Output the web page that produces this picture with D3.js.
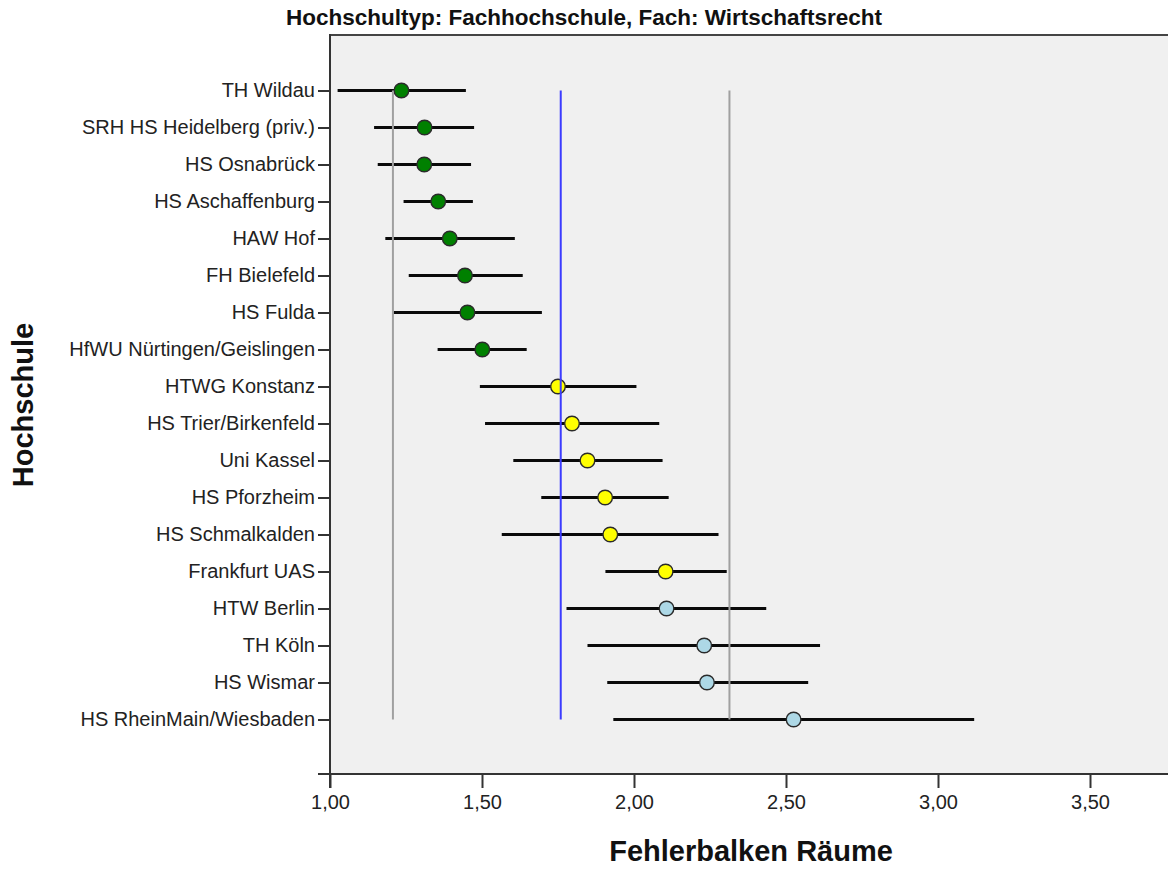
<!DOCTYPE html>
<html>
<head>
<meta charset="utf-8">
<script src="https://cdn.jsdelivr.net/npm/d3@7"></script>
<style>
  html, body { margin: 0; padding: 0; background: #ffffff; }
  svg { display: block; }
  text { font-family: "Liberation Sans", Arial, sans-serif; }
</style>
</head>
<body>
<svg id="chart" width="1168" height="869"></svg>
<script>
// ---- data ----
const categories = [
  "TH Wildau", "SRH HS Heidelberg (priv.)", "HS Osnabrück", "HS Aschaffenburg",
  "HAW Hof", "FH Bielefeld", "HS Fulda", "HfWU Nürtingen/Geislingen",
  "HTWG Konstanz", "HS Trier/Birkenfeld", "Uni Kassel", "HS Pforzheim",
  "HS Schmalkalden", "Frankfurt UAS", "HTW Berlin", "TH Köln", "HS Wismar",
  "HS RheinMain/Wiesbaden"
];
const means = [1.235, 1.311, 1.310, 1.356, 1.394, 1.444, 1.452, 1.501,
               1.750, 1.796, 1.847, 1.905, 1.922, 2.104, 2.107, 2.231, 2.240, 2.525];
const lower = [1.025, 1.145, 1.157, 1.242, 1.182, 1.259, 1.209, 1.354,
               1.493, 1.510, 1.603, 1.695, 1.565, 1.906, 1.778, 1.847, 1.912, 1.932];
const upper = [1.447, 1.474, 1.464, 1.470, 1.608, 1.634, 1.697, 1.647,
               2.008, 2.083, 2.094, 2.114, 2.278, 2.305, 2.435, 2.612, 2.573, 3.119];
const groupIndex = [0, 0, 0, 0, 0, 0, 0, 0, 1, 1, 1, 1, 1, 1, 2, 2, 2, 2];
const groupColors = ["#008000", "#ffff00", "#add8e6"];
const refValues = [1.207, 1.759, 2.314];
const refColors = ["#a0a0a0", "#3c3cff", "#a0a0a0"];
const tickValues = [1.0, 1.5, 2.0, 2.5, 3.0, 3.5];
const tickLabels = ["1,00", "1,50", "2,00", "2,50", "3,00", "3,50"];
const title = "Hochschultyp: Fachhochschule, Fach: Wirtschaftsrecht";
const xTitle = "Fehlerbalken Räume";
const yTitle = "Hochschule";

const rows = categories.map((c, i) => ({
  name: c, mean: means[i], lo: lower[i], hi: upper[i], g: groupIndex[i]
}));

// ---- layout ----
const svg = d3.select("#chart");
const plotLeft = 330, plotTop = 35, plotBottom = 774, plotRight = 1200;

const x = d3.scaleLinear().domain([1.0, 3.5]).range([plotLeft, 1090]);
const y = d3.scalePoint().domain(categories).range([plotTop, plotBottom + 1]).padding(1.5);

// background
svg.append("rect")
  .attr("x", plotLeft).attr("y", plotTop)
  .attr("width", plotRight - plotLeft).attr("height", plotBottom - plotTop)
  .attr("fill", "#f0f0f0");

// top frame line
svg.append("line")
  .attr("x1", plotLeft).attr("x2", plotRight)
  .attr("y1", plotTop).attr("y2", plotTop)
  .attr("stroke", "#444").attr("stroke-width", 2);

// error bars
const g = svg.append("g");
g.selectAll("line.err").data(rows).enter().append("line")
  .attr("class", "err")
  .attr("x1", d => x(d.lo)).attr("x2", d => x(d.hi))
  .attr("y1", d => y(d.name)).attr("y2", d => y(d.name))
  .attr("stroke", "#0a0a0a").attr("stroke-width", 3);

// points
g.selectAll("circle").data(rows).enter().append("circle")
  .attr("cx", d => x(d.mean)).attr("cy", d => y(d.name))
  .attr("r", 7.3)
  .attr("fill", d => groupColors[d.g])
  .attr("stroke", "#2a2a2a").attr("stroke-width", 1.4);

// reference lines
const yFirst = y(categories[0]), yLast = y(categories[categories.length - 1]);
svg.append("g").selectAll("line").data(refValues).enter().append("line")
  .attr("x1", d => x(d)).attr("x2", d => x(d))
  .attr("y1", yFirst).attr("y2", yLast)
  .attr("stroke", (d, i) => refColors[i]).attr("stroke-width", 2);

// x axis
const xAxis = d3.axisBottom(x)
  .tickValues(tickValues)
  .tickFormat((d, i) => tickLabels[i])
  .tickSize(14).tickPadding(7).tickSizeOuter(0);
const xg = svg.append("g").attr("transform", `translate(0,${plotBottom})`).call(xAxis);
xg.select(".domain").remove();
xg.selectAll(".tick line").attr("stroke", "#333").attr("stroke-width", 2);
xg.selectAll(".tick text").attr("font-size", 20).attr("fill", "#222")
  .style("font-family", '"Liberation Sans", Arial, sans-serif');
svg.append("line")
  .attr("x1", plotLeft - 1).attr("x2", plotRight)
  .attr("y1", plotBottom).attr("y2", plotBottom)
  .attr("stroke", "#333").attr("stroke-width", 2);

// y axis
const yAxis = d3.axisLeft(y).tickSize(12).tickPadding(3).tickSizeOuter(0);
const yg = svg.append("g").attr("transform", `translate(${plotLeft},0)`).call(yAxis);
yg.select(".domain").remove();
yg.selectAll(".tick line").attr("stroke", "#333").attr("stroke-width", 2);
yg.selectAll(".tick text").attr("font-size", 20).attr("fill", "#222")
  .style("font-family", '"Liberation Sans", Arial, sans-serif');
// bottom end tick of y axis
svg.append("line")
  .attr("x1", plotLeft - 12).attr("x2", plotLeft)
  .attr("y1", plotBottom).attr("y2", plotBottom)
  .attr("stroke", "#333").attr("stroke-width", 2);
svg.append("line")
  .attr("x1", plotLeft).attr("x2", plotLeft)
  .attr("y1", plotTop - 1).attr("y2", plotBottom + 14)
  .attr("stroke", "#333").attr("stroke-width", 2);

// titles
svg.append("text")
  .attr("x", 584).attr("y", 25)
  .attr("text-anchor", "middle")
  .attr("font-size", 22.5).attr("font-weight", "bold").attr("fill", "#111")
  .text(title);

svg.append("text")
  .attr("x", 751).attr("y", 861)
  .attr("text-anchor", "middle")
  .attr("font-size", 29).attr("font-weight", "bold").attr("fill", "#111")
  .text(xTitle);

svg.append("text")
  .attr("transform", "translate(33,405) rotate(-90)")
  .attr("text-anchor", "middle")
  .attr("font-size", 29).attr("font-weight", "bold").attr("fill", "#111")
  .text(yTitle);
</script>
</body>
</html>
